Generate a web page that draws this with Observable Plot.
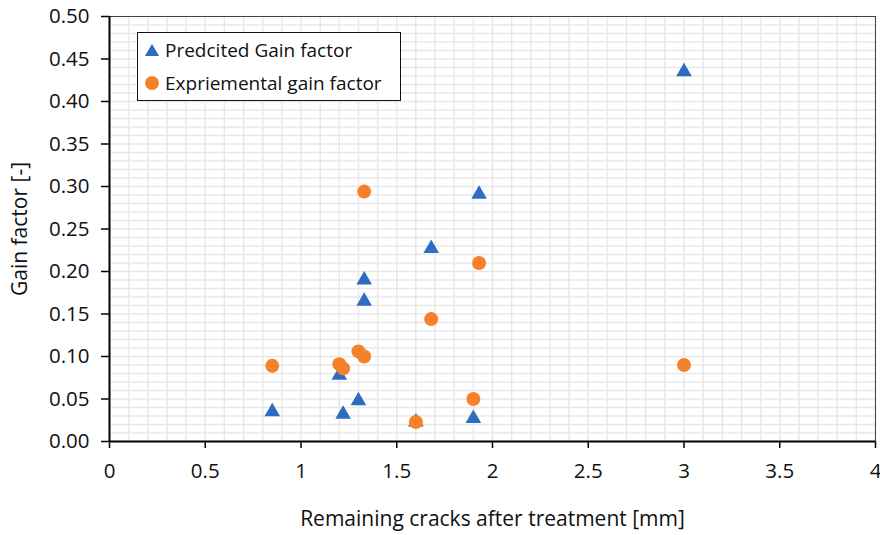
<!DOCTYPE html>
<html>
<head>
<meta charset="utf-8">
<script src="https://cdn.jsdelivr.net/npm/d3@7"></script>
<script src="https://cdn.jsdelivr.net/npm/@observablehq/plot@0.6"></script>
<style>
  body { margin: 0; background: #fff; font-family: "Open Sans", sans-serif; }
  #vis { position: relative; width: 880px; height: 535px; }
  .legend {
    position: absolute; left: 137px; top: 32px; width: 262px; height: 67px;
    border: 1.5px solid #111; background: #fff; font-size: 19px; color: #111;
  }
  .legend div { position: absolute; left: 6px; display: flex; align-items: center; white-space: nowrap; }
  .legend svg { margin-right: 5px; }
</style>
</head>
<body>
<div id="vis"></div>
<script>
// remaining crack width [mm]
const cracks = [0.85, 1.2, 1.22, 1.3, 1.33, 1.33, 1.6, 1.68, 1.9, 1.93, 3.0]
// gain factor per specimen
const predicted = [0.035, 0.078, 0.032, 0.048, 0.190, 0.165, 0.023, 0.227, 0.027, 0.291, 0.435]
const experimental = [0.089, 0.091, 0.086, 0.106, 0.100, 0.294, 0.023, 0.144, 0.050, 0.210, 0.090]

const xTicks = [0, 0.5, 1, 1.5, 2, 2.5, 3, 3.5, 4]
const yTicks = [0, 0.05, 0.1, 0.15, 0.2, 0.25, 0.3, 0.35, 0.4, 0.45, 0.5]
const xMinor = d3.range(0, 41).map(i => i / 10)
const yMinor = d3.range(0, 51).map(i => i / 100)

const blue = '#2d6cc0'
const orange = '#f5822b'

const predData = cracks.map((c, i) => ({crack: c, gain: predicted[i]}))
const expData = cracks.map((c, i) => ({crack: c, gain: experimental[i]}))

let chart = Plot.plot({
  width: 880,
  height: 535,
  marginLeft: 109,
  marginRight: 5,
  marginTop: 16,
  marginBottom: 94,
  x: {
    domain: [0, 4],
    ticks: xTicks,
    tickFormat: d => String(d),
    tickSize: 7,
    tickPadding: 15,
    label: 'Remaining cracks after treatment [mm]',
    labelArrow: 'none',
    labelAnchor: 'center',
    labelOffset: 84,
  },
  y: {
    domain: [0, 0.5],
    ticks: yTicks,
    tickFormat: '.2f',
    tickSize: 8,
    tickPadding: 12,
    label: 'Gain factor [-]',
    labelArrow: 'none',
    labelAnchor: 'center',
    labelOffset: 97,
  },
  marks: [
    Plot.gridX(xMinor, {stroke: '#e8e8e8', strokeOpacity: 1, strokeWidth: 1.5}),
    Plot.gridY(yMinor, {stroke: '#e8e8e8', strokeOpacity: 1, strokeWidth: 1.5}),
    Plot.frame({stroke: '#444', strokeWidth: 1}),
    Plot.ruleX([0], {stroke: '#000', strokeWidth: 2}),
    Plot.ruleY([0], {stroke: '#000', strokeWidth: 2}),
    Plot.dot(predData, {x: 'crack', y: 'gain', symbol: 'triangle', r: 5.8, fill: blue}),
    Plot.dot(expData, {x: 'crack', y: 'gain', symbol: 'circle', r: 7, fill: orange}),
  ],
  style: {
    fontSize: '18px',
    fontFamily: '"Open Sans", sans-serif',
    color: '#111',
    background: '#fff',
  },
})

// Excel-style text: numbers a bit bigger, axis titles bigger, no arrows
d3.select(chart).selectAll('text').each(function () {
  const t = this.textContent
  if (/[a-z]/i.test(t)) {
    d3.select(this).style('font-size', '21px').text(t.replace(/\s*[→↑←↓]\s*/g, ''))
  } else {
    d3.select(this).style('font-size', '20.5px')
  }
})
d3.select(chart).selectAll('[aria-label$="axis tick"]').attr('stroke', '#000').attr('stroke-width', 1.5)

d3.select('#vis').append(() => chart)

const legend = d3.select('#vis').append('div').attr('class', 'legend')
legend.append('div').style('top', '4px').html(
  `<svg width="16" height="16"><path d="M8,2 L15,14 L1,14 Z" fill="${blue}"/></svg>Predcited Gain factor`)
legend.append('div').style('top', '37px').html(
  `<svg width="16" height="16"><circle cx="8" cy="8" r="7" fill="${orange}"/></svg>Expriemental gain factor`)
</script>
</body>
</html>
